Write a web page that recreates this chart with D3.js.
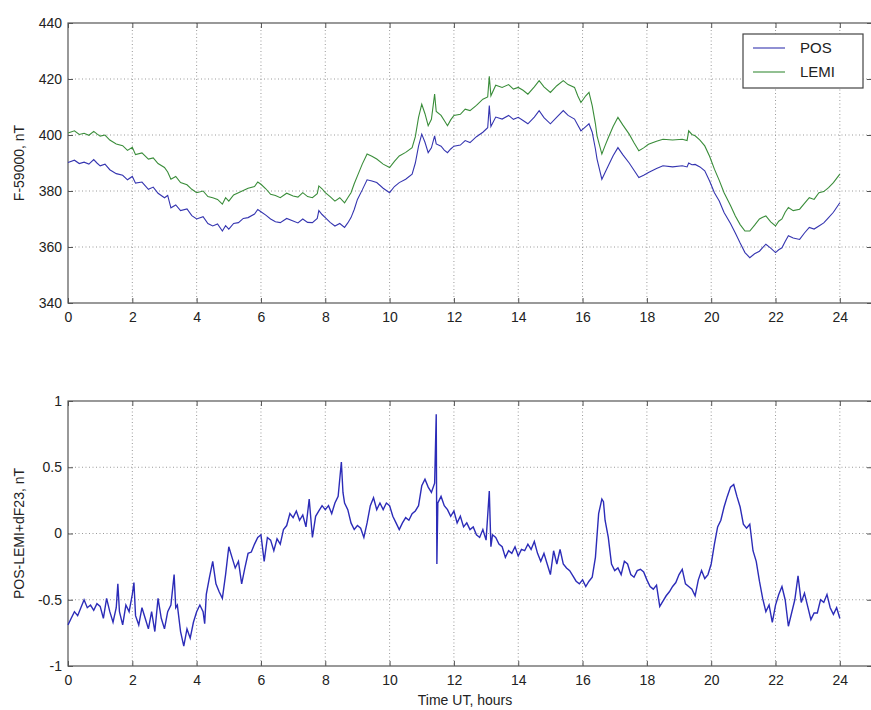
<!DOCTYPE html>
<html>
<head>
<meta charset="utf-8">
<script src="https://d3js.org/d3.v7.min.js"></script>
<style>
  body { margin: 0; background: #fff; }
  text { font-family: "Liberation Sans", Arial, Helvetica, sans-serif; fill: #222; }
</style>
</head>
<body>
<div id="chart"></div>
<script>

// hours at which the two field records were read
var topHours = [
  0, 0.2, 0.35, 0.5, 0.65, 0.8, 0.9, 1.0, 1.15, 1.3,
  1.5, 1.7, 1.85, 2.0, 2.1, 2.3, 2.5, 2.65, 2.8, 3.0,
  3.1, 3.2, 3.35, 3.5, 3.7, 3.85, 4.0, 4.2, 4.35, 4.5,
  4.65, 4.8, 4.9, 5.0, 5.15, 5.3, 5.45, 5.6, 5.8, 5.9,
  6.0, 6.15, 6.3, 6.45, 6.6, 6.8, 7.0, 7.15, 7.3, 7.45,
  7.6, 7.75, 7.8, 7.9, 8.0, 8.15, 8.3, 8.45, 8.6, 8.7,
  8.8, 8.9, 9.0, 9.15, 9.3, 9.45, 9.6, 9.8, 10.0, 10.15,
  10.3, 10.5, 10.7, 10.8, 10.9, 11.0, 11.1, 11.2, 11.3, 11.4,
  11.45, 11.6, 11.7, 11.8, 11.9, 12.0, 12.2, 12.35, 12.5, 12.7,
  12.9, 13.05, 13.1, 13.15, 13.3, 13.5, 13.7, 13.85, 14.0, 14.15,
  14.3, 14.5, 14.65, 14.8, 15.0, 15.2, 15.4, 15.55, 15.75, 15.85,
  15.95, 16.1, 16.2, 16.3, 16.4, 16.45, 16.6, 16.7, 16.8, 16.95,
  17.1, 17.25, 17.45, 17.6, 17.75, 17.9, 18.05, 18.3, 18.5, 18.8,
  19.1, 19.25, 19.3, 19.4, 19.5, 19.65, 19.8, 19.95, 20.1, 20.25,
  20.4, 20.6, 20.75, 20.9, 21.05, 21.2, 21.35, 21.5, 21.6, 21.7,
  21.85, 22.0, 22.1, 22.2, 22.3, 22.4, 22.55, 22.75, 22.9, 23.05,
  23.2, 23.35, 23.5, 23.65, 23.8, 24.0];

// F - 59000, nT
var posValues = [
  390.2, 391.0, 389.8, 390.3, 389.6, 391.2, 390.0, 389.0, 389.6, 387.6,
  386.2, 385.6, 384.0, 385.2, 382.8, 383.2, 380.6, 381.4, 379.2, 377.6,
  378.4, 374.0, 375.0, 373.0, 373.6, 371.2, 370.0, 370.8, 368.4, 367.5,
  368.2, 365.7, 367.6, 366.4, 368.4, 368.7, 370.2, 370.5, 371.8, 373.4,
  372.6, 371.4, 370.0, 369.0, 368.7, 370.2, 369.3, 368.6, 370.0, 368.8,
  368.7, 370.2, 373.0, 371.6, 370.5, 368.8, 367.5, 368.4, 367.0, 368.6,
  370.5, 373.4, 377.0, 380.4, 384.0, 383.6, 383.0, 381.0, 379.4, 381.6,
  383.0, 384.2, 386.0, 390.0, 396.0, 400.3, 397.4, 393.7, 395.4, 399.7,
  396.8, 396.0, 394.6, 393.7, 395.0, 396.0, 396.4, 398.0, 397.3, 399.4,
  401.0, 402.6, 410.5, 403.0, 406.4, 405.7, 407.0, 405.6, 406.3, 405.2,
  404.0, 406.4, 408.7, 406.2, 404.0, 406.4, 408.7, 407.0, 405.7, 403.6,
  401.5, 403.0, 404.0, 401.0, 395.0, 391.4, 384.2, 386.6, 389.0, 392.6,
  395.5, 393.0, 390.0, 387.4, 384.8, 385.6, 386.6, 388.0, 389.0, 388.6,
  389.0, 388.6, 390.0, 389.4, 389.5, 388.6, 387.2, 383.6, 379.4, 376.4,
  372.3, 368.4, 365.0, 361.4, 358.0, 356.2, 357.6, 358.5, 359.8, 361.0,
  359.6, 358.0, 359.0, 359.7, 362.0, 364.0, 363.2, 362.7, 365.0, 367.0,
  366.4, 367.5, 368.6, 370.5, 372.4, 375.8];

var lemiValues = [
  400.7, 401.5, 400.2, 400.6, 399.9, 401.3, 400.4, 399.6, 400.0, 398.2,
  396.8, 396.2, 394.5, 395.6, 393.0, 393.6, 391.4, 391.8, 389.8, 388.4,
  386.8, 384.2, 385.2, 383.0, 382.2, 380.6, 379.4, 380.0, 378.0, 377.6,
  377.0, 375.3, 377.6, 376.4, 378.6, 379.4, 380.2, 381.0, 381.6, 383.2,
  382.4, 380.8, 378.8, 378.4, 377.6, 379.2, 378.2, 377.8, 379.4, 378.0,
  377.6, 379.0, 381.8, 380.8, 379.4, 378.0, 376.4, 377.6, 375.8, 377.6,
  379.4, 382.6, 385.4, 389.6, 393.2, 392.4, 391.4, 389.6, 388.4, 390.6,
  392.5, 393.8, 395.5, 399.4, 406.3, 411.0, 407.6, 403.3, 405.6, 414.6,
  408.4, 407.0, 405.2, 403.3, 405.4, 407.0, 407.4, 409.2, 408.7, 410.6,
  412.8, 413.6, 421.0, 414.0, 417.8, 417.0, 418.0, 416.4, 417.0, 416.0,
  414.6, 417.2, 419.4, 417.2, 415.2, 417.6, 419.4, 418.0, 417.0, 414.0,
  411.6, 414.0, 415.2, 410.5, 404.0, 399.7, 393.2, 396.2, 399.0, 403.0,
  406.3, 403.6, 400.3, 397.2, 394.4, 395.4, 396.7, 397.8, 398.5, 398.2,
  398.5, 398.0, 401.5, 400.2, 399.7, 398.2, 396.1, 392.4, 387.8, 383.8,
  379.4, 374.8, 371.1, 368.0, 365.7, 365.7, 367.8, 370.0, 370.6, 371.1,
  369.0, 367.5, 369.2, 370.0, 372.4, 374.1, 373.0, 373.5, 375.6, 377.6,
  377.0, 379.4, 379.8, 381.2, 383.0, 386.0];

// POS - LEMI + dF23, nT  [hour, value]
var diffSeries = [
  [0, -0.69], [0.1, -0.64], [0.2, -0.59], [0.3, -0.62], [0.4, -0.56], [0.5, -0.5], [0.6, -0.56], [0.7, -0.54],
  [0.8, -0.58], [0.9, -0.53], [1.0, -0.55], [1.1, -0.64], [1.2, -0.49], [1.3, -0.59], [1.4, -0.67], [1.5, -0.56],
  [1.55, -0.38], [1.6, -0.59], [1.7, -0.69], [1.8, -0.54], [1.9, -0.59], [2.0, -0.46], [2.05, -0.37], [2.1, -0.62],
  [2.2, -0.69], [2.3, -0.56], [2.4, -0.64], [2.5, -0.72], [2.6, -0.59], [2.7, -0.74], [2.8, -0.49], [2.9, -0.64],
  [3.0, -0.72], [3.1, -0.59], [3.2, -0.54], [3.3, -0.31], [3.35, -0.56], [3.4, -0.54], [3.5, -0.74], [3.6, -0.85],
  [3.7, -0.72], [3.8, -0.79], [3.9, -0.67], [4.0, -0.59], [4.1, -0.54], [4.2, -0.59], [4.25, -0.68], [4.3, -0.46],
  [4.4, -0.33], [4.5, -0.21], [4.6, -0.38], [4.7, -0.44], [4.8, -0.49], [4.9, -0.31], [5.0, -0.1], [5.1, -0.18],
  [5.2, -0.26], [5.3, -0.21], [5.4, -0.38], [5.5, -0.26], [5.6, -0.15], [5.7, -0.14], [5.8, -0.08], [5.9, -0.03],
  [6.0, -0.01], [6.1, -0.21], [6.2, -0.03], [6.3, -0.05], [6.4, -0.13], [6.5, -0.04], [6.6, -0.08], [6.7, 0.03],
  [6.8, 0.06], [6.9, 0.15], [7.0, 0.12], [7.1, 0.17], [7.2, 0.1], [7.3, 0.14], [7.4, 0.05], [7.5, 0.26],
  [7.6, -0.03], [7.7, 0.13], [7.8, 0.17], [7.9, 0.21], [8.0, 0.18], [8.1, 0.21], [8.2, 0.15], [8.3, 0.23],
  [8.4, 0.28], [8.5, 0.54], [8.55, 0.31], [8.6, 0.23], [8.7, 0.18], [8.8, 0.08], [8.9, 0.03], [9.0, 0.06],
  [9.1, 0.04], [9.2, -0.03], [9.3, 0.08], [9.4, 0.21], [9.5, 0.27], [9.6, 0.18], [9.7, 0.23], [9.8, 0.18],
  [9.9, 0.23], [10.0, 0.21], [10.1, 0.13], [10.2, 0.08], [10.3, 0.03], [10.4, 0.08], [10.5, 0.12], [10.6, 0.1],
  [10.7, 0.15], [10.8, 0.17], [10.9, 0.21], [11.0, 0.36], [11.1, 0.41], [11.2, 0.35], [11.3, 0.31], [11.4, 0.38],
  [11.45, 0.9], [11.47, -0.23], [11.5, 0.23], [11.6, 0.28], [11.7, 0.21], [11.8, 0.18], [11.9, 0.13], [12.0, 0.17],
  [12.1, 0.08], [12.2, 0.13], [12.3, 0.05], [12.4, 0.08], [12.5, 0.03], [12.6, 0.05], [12.7, -0.01], [12.8, -0.03],
  [12.9, 0.03], [13.0, -0.05], [13.1, 0.32], [13.15, -0.1], [13.2, -0.01], [13.3, -0.03], [13.4, -0.08], [13.5, -0.1],
  [13.6, -0.18], [13.7, -0.13], [13.8, -0.15], [13.9, -0.1], [14.0, -0.17], [14.1, -0.12], [14.2, -0.13], [14.3, -0.08],
  [14.4, -0.12], [14.5, -0.06], [14.6, -0.15], [14.7, -0.21], [14.8, -0.15], [14.9, -0.23], [15.0, -0.31], [15.1, -0.13],
  [15.2, -0.23], [15.3, -0.12], [15.4, -0.23], [15.5, -0.26], [15.6, -0.28], [15.7, -0.32], [15.8, -0.36], [15.9, -0.38],
  [16.0, -0.35], [16.1, -0.4], [16.2, -0.36], [16.3, -0.33], [16.4, -0.18], [16.5, 0.15], [16.6, 0.26], [16.65, 0.24],
  [16.7, 0.1], [16.8, -0.03], [16.9, -0.23], [17.0, -0.28], [17.1, -0.26], [17.2, -0.31], [17.3, -0.21], [17.4, -0.23],
  [17.5, -0.31], [17.6, -0.33], [17.7, -0.28], [17.8, -0.27], [17.9, -0.29], [18.0, -0.35], [18.1, -0.4], [18.2, -0.42],
  [18.3, -0.39], [18.4, -0.55], [18.5, -0.51], [18.6, -0.47], [18.7, -0.44], [18.8, -0.4], [18.9, -0.37], [19.0, -0.31],
  [19.1, -0.27], [19.2, -0.38], [19.3, -0.4], [19.4, -0.42], [19.5, -0.47], [19.6, -0.35], [19.7, -0.28], [19.8, -0.34],
  [19.9, -0.31], [20.0, -0.23], [20.1, -0.08], [20.2, 0.05], [20.3, 0.1], [20.4, 0.2], [20.5, 0.28], [20.6, 0.35],
  [20.7, 0.37], [20.8, 0.28], [20.9, 0.2], [21.0, 0.07], [21.1, 0.04], [21.2, 0.07], [21.3, -0.13], [21.4, -0.21],
  [21.5, -0.36], [21.6, -0.49], [21.7, -0.59], [21.8, -0.54], [21.9, -0.67], [22.0, -0.54], [22.1, -0.46], [22.2, -0.4],
  [22.3, -0.5], [22.4, -0.7], [22.5, -0.6], [22.6, -0.5], [22.7, -0.32], [22.8, -0.52], [22.9, -0.45], [23.0, -0.55],
  [23.1, -0.65], [23.2, -0.6], [23.3, -0.6], [23.4, -0.5], [23.5, -0.52], [23.6, -0.46], [23.7, -0.56], [23.8, -0.61],
  [23.9, -0.56], [24.0, -0.64]
];

var xTicks = [0, 2, 4, 6, 8, 10, 12, 14, 16, 18, 20, 22, 24];
var topYTicks = [340, 360, 380, 400, 420, 440];
var bottomYTicks = [-1, -0.5, 0, 0.5, 1];
var legendNames = ["POS", "LEMI"];

var colors = { POS: "#3535b0", LEMI: "#3a8d3a", diff: "#2c2cb8" };

var W = 871, H = 710;

var svg = d3.select("#chart").append("svg")
  .attr("width", W)
  .attr("height", H);

// x runs to 25 so the right edge of the box falls just outside the picture
var x = d3.scaleLinear().domain([0, 25]).range([68, 872]);
var yTop = d3.scaleLinear().domain([340, 440]).range([303, 23]);
var yBot = d3.scaleLinear().domain([-1, 1]).range([666, 401]);

function drawPanel(y, yTicks, yFormat, ylabel) {
  var g = svg.append("g");
  var x0 = x.range()[0], x1 = x.range()[1];
  var yb = y.range()[0], yt = y.range()[1];

  // dotted grid
  g.selectAll(".vg").data(xTicks.filter(function(d) { return d > 0; }))
    .enter().append("line")
      .attr("x1", function(d) { return x(d); }).attr("x2", function(d) { return x(d); })
      .attr("y1", yt).attr("y2", yb)
      .attr("stroke", "#9a9a9a").attr("stroke-width", 1).attr("stroke-dasharray", "1,2.5");
  g.selectAll(".hg").data(yTicks.slice(1, -1))
    .enter().append("line")
      .attr("x1", x0).attr("x2", x1)
      .attr("y1", function(d) { return y(d); }).attr("y2", function(d) { return y(d); })
      .attr("stroke", "#9a9a9a").attr("stroke-width", 1).attr("stroke-dasharray", "1,2.5");

  // axes with ticks pointing inward
  var ax = g.append("g").attr("transform", "translate(0," + yb + ")")
    .call(d3.axisBottom(x).tickValues(xTicks).tickSize(-5).tickPadding(9));
  var axTop = g.append("g").attr("transform", "translate(0," + yt + ")")
    .call(d3.axisTop(x).tickValues(xTicks).tickSize(-5).tickFormat(""));
  var ay = g.append("g").attr("transform", "translate(" + x0 + ",0)")
    .call(d3.axisLeft(y).tickValues(yTicks).tickSize(-5).tickPadding(6).tickFormat(yFormat));
  var ayR = g.append("g").attr("transform", "translate(" + x1 + ",0)")
    .call(d3.axisRight(y).tickValues(yTicks).tickSize(-5).tickFormat(""));

  [ax, axTop, ay, ayR].forEach(function(a) {
    a.select(".domain").remove();
    a.selectAll(".tick line").attr("stroke", "#555");
    a.selectAll("text").style("font-size", "14px").attr("fill", "#222");
  });

  // box
  g.append("rect")
    .attr("x", x0).attr("y", yt)
    .attr("width", x1 - x0).attr("height", yb - yt)
    .attr("fill", "none").attr("stroke", "#555").attr("stroke-width", 1.2);

  g.append("text")
    .attr("transform", "translate(" + 24 + "," + ((yt + yb) / 2) + ") rotate(-90)")
    .attr("text-anchor", "middle")
    .style("font-size", "14px")
    .text(ylabel);
  return g;
}

drawPanel(yTop, topYTicks, d3.format("d"), "F-59000, nT");
drawPanel(yBot, bottomYTicks, function(d) { return d === 0 ? "0" : String(d); }, "POS-LEMI+dF23, nT");

// top panel lines
var lineTop = d3.line()
  .x(function(d) { return x(d[0]); })
  .y(function(d) { return yTop(d[1]); });

var lemiData = topHours.map(function(h, i) { return [h, lemiValues[i]]; });
var posData = topHours.map(function(h, i) { return [h, posValues[i]]; });

svg.append("path").datum(lemiData)
  .attr("d", lineTop).attr("fill", "none")
  .attr("stroke", colors.LEMI).attr("stroke-width", 1.1);
svg.append("path").datum(posData)
  .attr("d", lineTop).attr("fill", "none")
  .attr("stroke", colors.POS).attr("stroke-width", 1.1);

// bottom panel line
var lineBot = d3.line()
  .x(function(d) { return x(d[0]); })
  .y(function(d) { return yBot(d[1]); });

svg.append("path").datum(diffSeries)
  .attr("d", lineBot).attr("fill", "none")
  .attr("stroke", colors.diff).attr("stroke-width", 1.4);

// legend
var lg = svg.append("g").attr("transform", "translate(743,34)");
lg.append("rect").attr("width", 120).attr("height", 54)
  .attr("fill", "#fff").attr("stroke", "#444").attr("stroke-width", 1.2);
legendNames.forEach(function(name, i) {
  var yy = 14 + i * 24;
  lg.append("line").attr("x1", 10).attr("x2", 42).attr("y1", yy).attr("y2", yy)
    .attr("stroke", colors[name]).attr("stroke-width", 1.1);
  lg.append("text").attr("x", 57).attr("y", yy + 5)
    .style("font-size", "15px").text(name);
});

// x label
svg.append("text")
  .attr("x", 465).attr("y", 705)
  .attr("text-anchor", "middle")
  .style("font-size", "14px")
  .text("Time UT, hours");

</script>
</body>
</html>
